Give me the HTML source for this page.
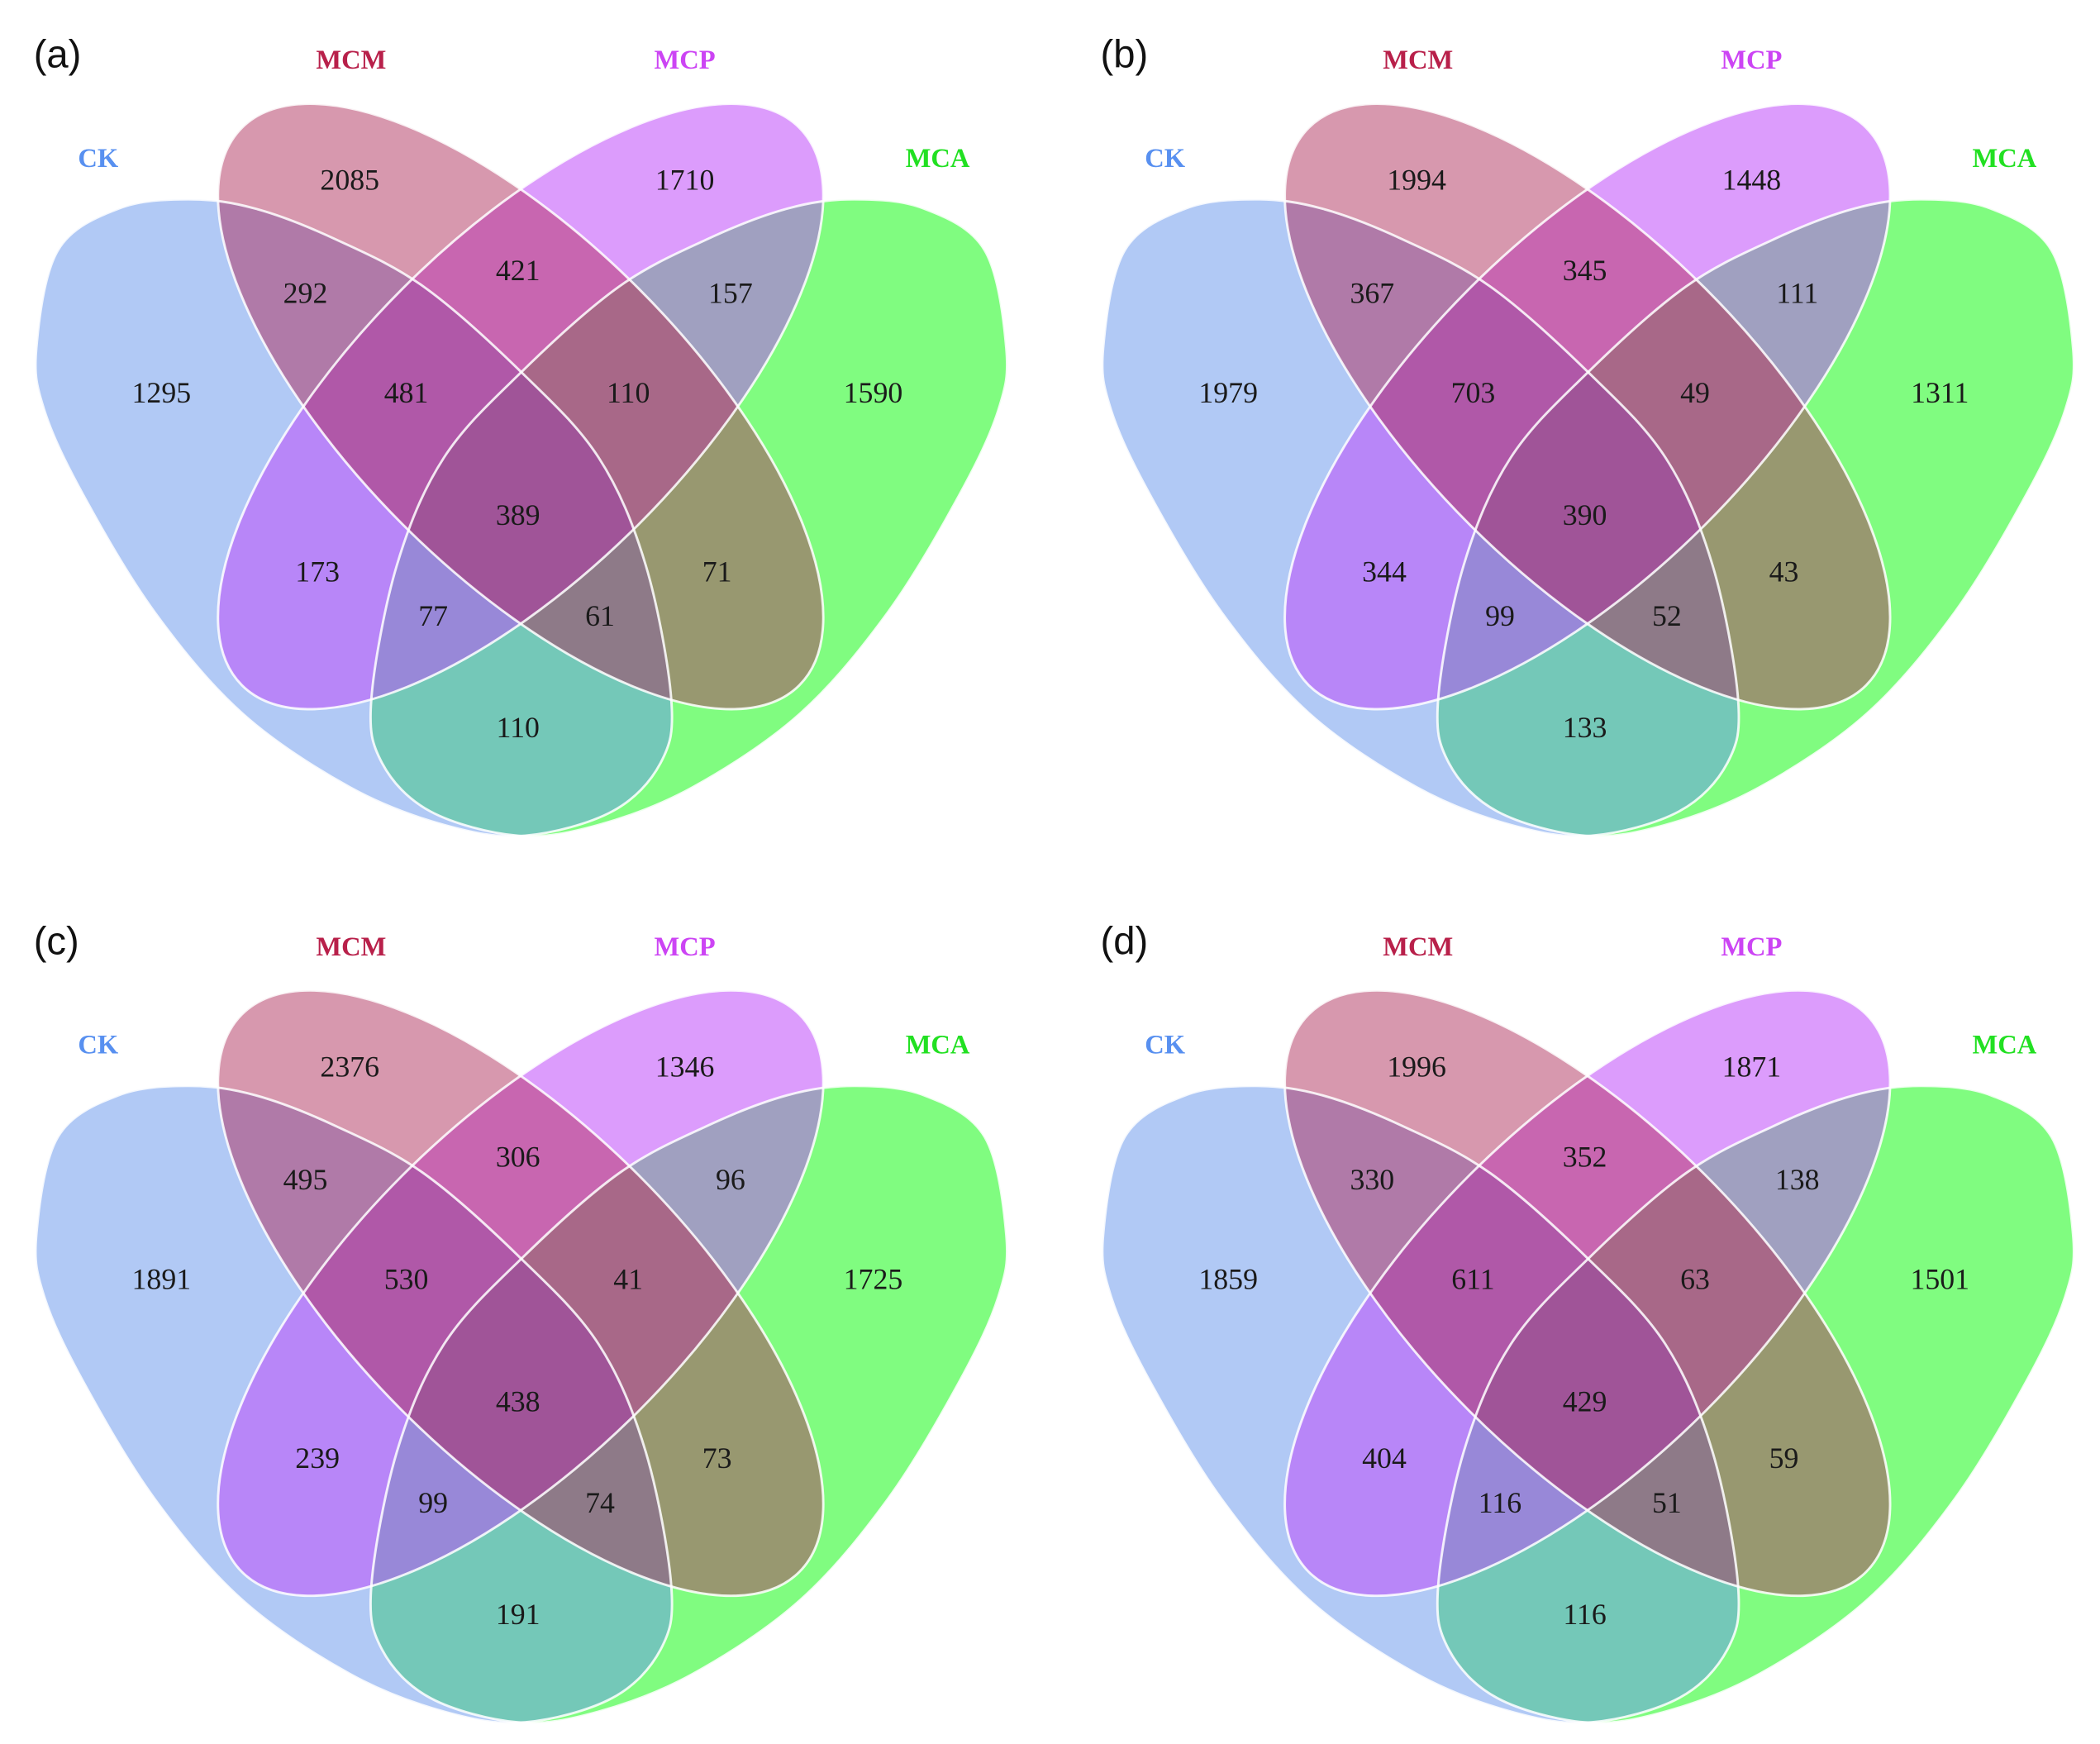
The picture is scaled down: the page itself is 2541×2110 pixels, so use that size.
<!DOCTYPE html>
<html><head><meta charset="utf-8"><style>
html,body{margin:0;padding:0;background:#fff;}
svg{display:block;}
</style></head><body>
<svg id="chart" xmlns="http://www.w3.org/2000/svg" width="2541" height="2110" viewBox="0 0 1561 1296">
<rect width="1561" height="1296" fill="#fff"/>
<defs id="defs"></defs>
</svg>
<script>
const panelLetters = ["(a)", "(b)", "(c)", "(d)"];
const setNames = ["CK", "MCM", "MCP", "MCA"];
// region order: CK, MCM, MCP, MCA, CK∩MCM, MCM∩MCP, MCP∩MCA, CK∩MCM∩MCP, MCM∩MCP∩MCA, all, CK∩MCP, MCM∩MCA, CK∩MCP∩MCA, CK∩MCM∩MCA, CK∩MCA
const valuesA = [1295, 2085, 1710, 1590, 292, 421, 157, 481, 110, 389, 173, 71, 77, 61, 110];
const valuesB = [1979, 1994, 1448, 1311, 367, 345, 111, 703, 49, 390, 344, 43, 99, 52, 133];
const valuesC = [1891, 2376, 1346, 1725, 495, 306, 96, 530, 41, 438, 239, 73, 99, 74, 191];
const valuesD = [1859, 1996, 1871, 1501, 330, 352, 138, 611, 63, 429, 404, 59, 116, 51, 116];
const panelValues = [valuesA, valuesB, valuesC, valuesD];

const NS = "http://www.w3.org/2000/svg";
const svg = document.getElementById("chart");
const defs = document.getElementById("defs");
function mk(tag, attrs, parent){const e=document.createElementNS(NS,tag);for(const k in attrs)e.setAttribute(k,attrs[k]);if(parent)parent.appendChild(e);return e;}

const regionSets = [[0],[1],[2],[3],[0,1],[1,2],[2,3],[0,1,2],[1,2,3],[0,1,2,3],[0,2],[1,3],[0,2,3],[0,1,3],[0,3]];
const regionColors = ["#b1c9f5","#d798ae","#dc9cfc","#80fc80","#b07aa8","#c866b0","#a0a0c0","#b058a8","#a86888","#a05498","#b886f8","#989870","#9888d8","#8e7a88","#74c8b8"];
const regionLabelXY = [[120,292],[260,134],[509,134],[649,292],[227,218],[385,201],[543,218],[302,292],[467,292],[385,383],[236,425],[533,425],[322,458],[446,458],[385,541]];
const panelOffsets = [[0,0],[793,0],[0,659],[793,659]];

const ckPts = [[27,259],[43,186],[88,155],[140,148],[190,155],[250,178],[315,213],[387,276],[445,340],[480,420],[499,520],[491,567],[455,603],[390,621],[330,613],[260,585],[180,530],[115,455],[62,368],[33,305]];
function crPath(p){
  const n=p.length;let d="M"+p[0][0]+","+p[0][1];
  for(let i=0;i<n;i++){
    const p0=p[(i-1+n)%n],p1=p[i],p2=p[(i+1)%n],p3=p[(i+2)%n];
    const c1=[p1[0]+(p2[0]-p0[0])/6,p1[1]+(p2[1]-p0[1])/6];
    const c2=[p2[0]-(p3[0]-p1[0])/6,p2[1]-(p3[1]-p1[1])/6];
    d+=" C"+c1[0].toFixed(1)+","+c1[1].toFixed(1)+" "+c2[0].toFixed(1)+","+c2[1].toFixed(1)+" "+p2[0]+","+p2[1];
  }
  return d+"Z";
}
const ckD = crPath(ckPts);
const mcaD = crPath(ckPts.map(q=>[775-q[0],q[1]]).reverse());
function shape(i, attrs, parent){
  if(i===0) return mk("path",Object.assign({d:ckD},attrs),parent);
  if(i===3) return mk("path",Object.assign({d:mcaD},attrs),parent);
  const rot = i===1?45:-45;
  return mk("ellipse",Object.assign({cx:387,cy:302,rx:293,ry:124,transform:"rotate("+rot+" 387 302)"},attrs),parent);
}
for(let i=0;i<4;i++){
  const cp=mk("clipPath",{id:"clip"+i},defs); shape(i,{},cp);
  const m=mk("mask",{id:"not"+i,maskUnits:"userSpaceOnUse",x:-50,y:-50,width:900,height:800},defs);
  mk("rect",{x:-50,y:-50,width:900,height:800,fill:"#fff"},m);
  shape(i,{fill:"#000"},m);
}
const setColors = ["#5890f0","#b8204a","#cc44f4","#22e022"];
const setLabelXY = [[73,117],[261,44],[509,44],[697,117]];

panelValues.forEach((vals,pi)=>{
  const g=mk("g",{transform:"translate("+panelOffsets[pi][0]+","+panelOffsets[pi][1]+")"},svg);
  
  
  regionSets.forEach((sets,ri)=>{
    let parent=g;
    for(let s=0;s<4;s++){
      const a = sets.includes(s)?{"clip-path":"url(#clip"+s+")"}:{mask:"url(#not"+s+")"};
      parent=mk("g",a,parent);
    }
    const r=mk("rect",{x:-10,y:-10,width:800,height:700,fill:regionColors[ri]},parent);
    
    
  });
  for(let s=0;s<4;s++){
    const o=shape(s,{fill:"none",stroke:"#fff","stroke-width":1.8,"stroke-opacity":0.85},g);
    
    
  }
  vals.forEach((v,ri)=>{
    const t=mk("text",{x:regionLabelXY[ri][0],y:regionLabelXY[ri][1]+7,"text-anchor":"middle","font-family":"Liberation Serif, serif","font-size":22,fill:"#1a1a1a"},g);
    t.textContent=v;
    
    
  });
  for(let s=0;s<4;s++){
    const t=mk("text",{x:setLabelXY[s][0],y:setLabelXY[s][1]+7,"text-anchor":"middle","font-family":"Liberation Serif, serif","font-weight":"bold","font-size":20,fill:setColors[s]},g);
    t.textContent=setNames[s];
    
    
  }
  const L=mk("text",{x:25,y:50,"font-family":"Liberation Sans, sans-serif","font-size":29,fill:"#111"},g);
  L.textContent=panelLetters[pi];
  
  
});
</script>
</body></html>
